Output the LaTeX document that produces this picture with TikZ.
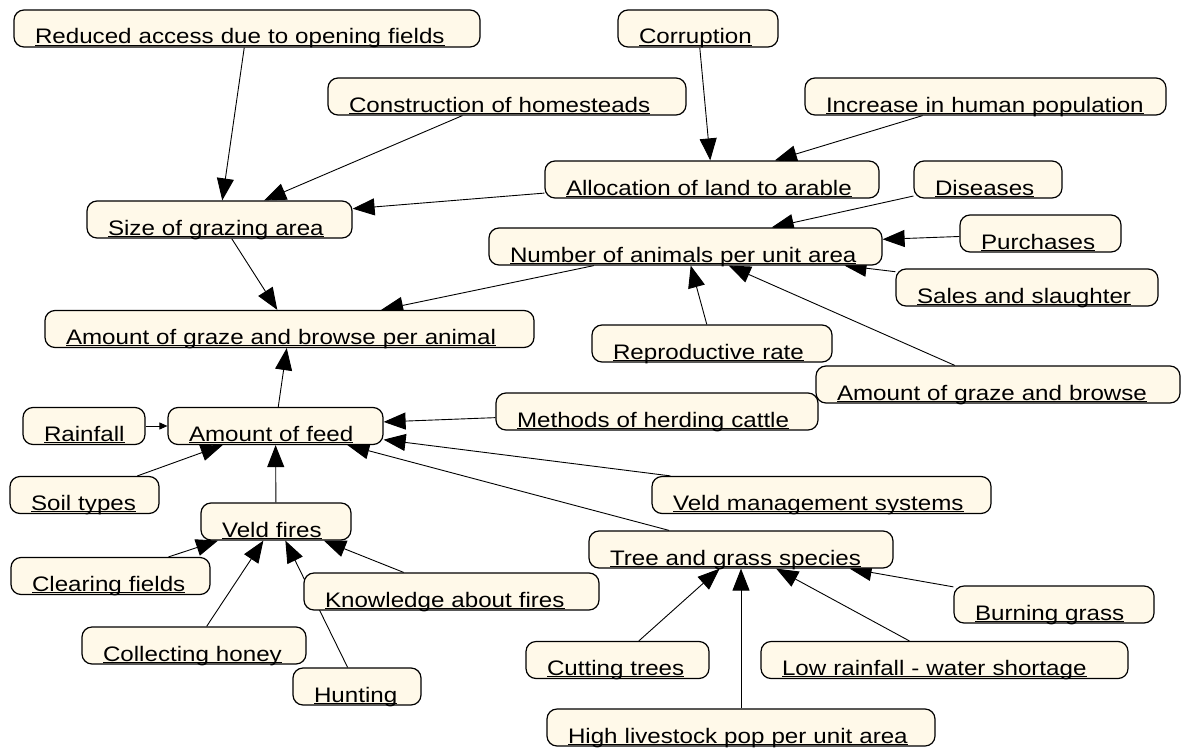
\documentclass[tikz,border=0pt]{standalone}
\usepackage{fontspec}
\setmainfont{Liberation Sans}[FakeStretch=1.15]
\usetikzlibrary{arrows.meta}
\pgfdeclarelayer{bg}
\pgfsetlayers{bg,main}
\definecolor{boxfill}{RGB}{255,249,233}
\newcommand\ulbl[1]{\setbox0\hbox{#1}\rlap{\rule[-1.5pt]{\wd0}{0.9pt}}\box0}
\newcommand\cbox[6]{%
  \pgfmathsetmacro\bw{#4-#2}%
  \pgfmathsetmacro\bx{(#2+#4)/2}%
  \pgfmathsetmacro\by{-(#3+#5)/2}%
  \node[cbox, minimum width=\bw pt, text width=\bw pt] (#1) at (\bx pt,\by pt) {\hspace*{21pt}\ulbl{#6}};}
\tikzset{
  cbox/.style={draw, line width=1.2pt, fill=boxfill, rounded corners=10pt,
    minimum height=37pt, inner xsep=0pt, inner ysep=0pt,
    text height=34pt, text depth=3pt, align=left,
    font=\fontsize{21pt}{24pt}\selectfont},
  arr/.style={line width=0.9pt, -{Triangle[length=22pt,width=17pt]}},
  sarr/.style={line width=0.9pt, -{Triangle[length=8pt,width=7pt]}}
}
\begin{document}
\begin{tikzpicture}[x=1pt,y=1pt]
\useasboundingbox (0,0) rectangle (1182,-752);
\cbox{ra}{14}{10}{480}{47}{Reduced access due to opening fields}
\cbox{co}{618}{10}{778}{47}{Corruption}
\cbox{ch}{328}{78}{686}{115}{Construction of homesteads}
\cbox{ip}{805}{78}{1166}{115}{Increase in human population}
\cbox{al}{545}{161}{879}{198}{Allocation of land to arable}
\cbox{di}{914}{161}{1062}{198}{Diseases}
\cbox{sg}{87}{201}{352}{238}{Size of grazing area}
\cbox{na}{489}{228}{882}{265}{Number of animals per unit area}
\cbox{pu}{960}{215}{1121}{252}{Purchases}
\cbox{ss}{896}{269}{1158}{306}{Sales and slaughter}
\cbox{ap}{45}{310}{534}{348}{Amount of graze and browse per animal}
\cbox{rr}{592}{325}{832}{362}{Reproductive rate}
\cbox{ag}{816}{366}{1180}{403}{Amount of graze and browse}
\cbox{rf}{23}{407}{145}{445}{Rainfall}
\cbox{af}{168}{407}{383}{445}{Amount of feed}
\cbox{mh}{496}{393}{818}{430}{Methods of herding cattle}
\cbox{st}{10}{477}{159}{513}{Soil types}
\cbox{vm}{652}{477}{991}{513}{Veld management systems}
\cbox{vf}{201}{503}{351}{540}{Veld fires}
\cbox{tg}{589}{531}{893}{568}{Tree and grass species}
\cbox{cf}{11}{557}{210}{595}{Clearing fields}
\cbox{kf}{304}{573}{599}{610}{Knowledge about fires}
\cbox{bg}{954}{586}{1154}{623}{Burning grass}
\cbox{hc}{82}{627}{306}{664}{Collecting honey}
\cbox{ct}{526}{642}{709}{678}{Cutting trees}
\cbox{lr}{761}{642}{1128}{678}{Low rainfall - water shortage}
\cbox{hu}{293}{668}{421}{705}{Hunting}
\cbox{hl}{547}{709}{935}{746}{High livestock pop per unit area}
\begin{pgfonlayer}{bg}
\draw[arr] (ra) -- (sg);
\draw[arr] (ch) -- (sg);
\draw[arr] (al) -- (sg);
\draw[arr] (co) -- (al);
\draw[arr] (ip) -- (al);
\draw[arr] (di) -- (na);
\draw[arr] (pu) -- (na);
\draw[arr] (ss) -- (na);
\draw[arr] (rr) -- (na);
\draw[arr] (ag) -- (na);
\draw[arr] (na) -- (ap);
\draw[arr] (sg) -- (ap);
\draw[arr] (af) -- (ap);
\draw[sarr] (rf) -- (af);
\draw[arr] (st) -- (af);
\draw[arr] (vf) -- (af);
\draw[arr] (mh) -- (af);
\draw[arr] (vm) -- (af);
\draw[arr] (tg) -- (af);
\draw[arr] (cf) -- (vf);
\draw[arr] (hc) -- (vf);
\draw[arr] (hu) -- (vf);
\draw[arr] (kf) -- (vf);
\draw[arr] (ct) -- (tg);
\draw[arr] (hl) -- (tg);
\draw[arr] (lr) -- (tg);
\draw[arr] (bg) -- (tg);
\end{pgfonlayer}
\end{tikzpicture}
\end{document}
